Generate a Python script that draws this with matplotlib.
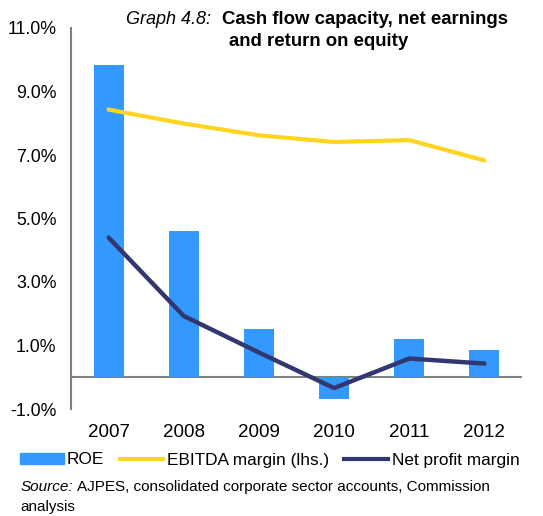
import matplotlib
matplotlib.use("Agg")
import matplotlib.pyplot as plt
from matplotlib.patches import Patch
from matplotlib.lines import Line2D

plt.rcParams['font.family'] = ['Liberation Sans', 'DejaVu Sans']

years = ['2007', '2008', '2009', '2010', '2011', '2012']
roe = [9.82, 4.62, 1.51, -0.70, 1.20, 0.87]
ebitda_margin = [8.43, 7.99, 7.62, 7.41, 7.47, 6.83]
net_profit_margin = [4.40, 1.93, 0.78, -0.34, 0.59, 0.43]
yticks = [-1, 1, 3, 5, 7, 9, 11]

c_bar = '#3399FF'
c_ebitda = '#FFD51F'
c_net = '#333770'
c_axis = '#808080'

W, H = 543, 516
fig = plt.figure(figsize=(W / 100, H / 100), dpi=100)
ax = fig.add_axes([71 / W, 1 - 409 / H, (522 - 71) / W, (409 - 28) / H])

x = list(range(len(years)))
ax.bar(x, roe, width=0.4, color=c_bar, zorder=2)
ax.plot(x, ebitda_margin, color=c_ebitda, lw=3.0, solid_capstyle='round', zorder=3)
ax.plot(x, net_profit_margin, color=c_net, lw=3.2, solid_capstyle='round', zorder=3)
ax.axhline(0, color=c_axis, lw=1.5, zorder=1)

ax.set_xlim(-0.5, len(years) - 0.5)
ax.set_ylim(-1, 11)
ax.set_yticks(yticks)
ax.set_yticklabels([f'{v:.1f}%' for v in yticks], fontsize=12.8)
ax.set_xticks(x)
ax.set_xticklabels(years, fontsize=13.5)
ax.tick_params(axis='y', length=0, pad=10.5)
ax.tick_params(axis='x', length=0, pad=11)
for s in ['top', 'right', 'bottom']:
    ax.spines[s].set_visible(False)
ax.spines['left'].set_color(c_axis)
ax.spines['left'].set_linewidth(1.5)

# Title
fig.text(211 / W, 1 - 20 / H, 'Graph 4.8:', fontsize=13, style='italic', ha='right', va='center')
fig.text(222 / W, 1 - 20 / H, 'Cash flow capacity, net earnings', fontsize=13.4, weight='bold', ha='left', va='center')
fig.text(318.5 / W, 1 - 42 / H, 'and return on equity', fontsize=13.4, weight='bold', ha='center', va='center')

# Legend
handles = [Patch(color=c_bar, label='ROE'),
           Line2D([], [], color=c_ebitda, lw=3, label='EBITDA margin (lhs.)'),
           Line2D([], [], color=c_net, lw=3, label='Net profit margin')]
fig.legend(handles=handles, loc='center', bbox_to_anchor=(269.5 / W, 1 - 460 / H), ncol=3,
           frameon=False, fontsize=12.4, handlelength=2.55, handleheight=0.55, handletextpad=0.2,
           columnspacing=0.88, borderpad=0, borderaxespad=0)

# Source
fig.text(20.7 / W, 1 - 487 / H, 'Source:', fontsize=11, style='italic', ha='left', va='center')
fig.text(76.7 / W, 1 - 487 / H, 'AJPES, consolidated corporate sector accounts, Commission',
         fontsize=11, ha='left', va='center')
fig.text(20.7 / W, 1 - 506.5 / H, 'analysis', fontsize=11, ha='left', va='center')

fig.savefig('out.png', dpi=100)
